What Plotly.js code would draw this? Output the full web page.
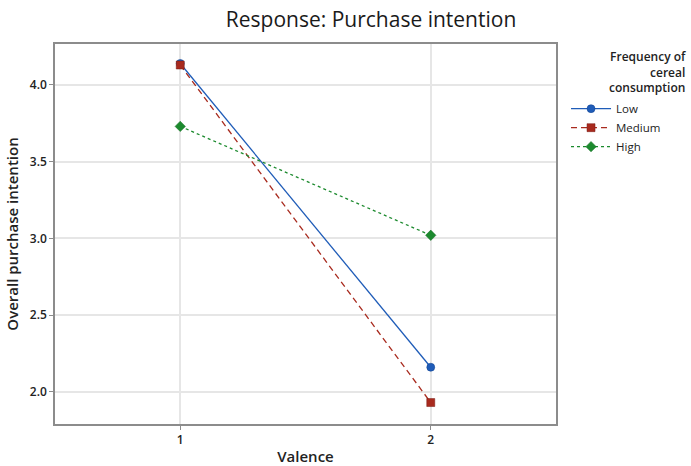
<!DOCTYPE html>
<html><head><meta charset="utf-8">
<script src="https://cdn.plot.ly/plotly-3.0.1.min.js"></script>
<style>html,body{margin:0;padding:0;background:#fff}</style>
</head><body>
<div id="chart" style="width:691px;height:466px"></div>
<script>
const valence = [1, 2];
const seriesNames = ["Low", "Medium", "High"];
const lowVals = [4.14, 2.16];
const mediumVals = [4.13, 1.93];
const highVals = [3.73, 3.02];
const yTicks = [2.0, 2.5, 3.0, 3.5, 4.0];
const xTicks = [1, 2];

const fontFam = "'Open Sans', 'Noto Sans', sans-serif";
const traces = [
  {x: valence, y: lowVals, name: seriesNames[0], mode: "lines+markers",
   line: {color: "#1f5cb8", width: 1.3, dash: "solid"},
   marker: {symbol: "circle", size: 8, color: "#1f5cb8", line: {color: "#0d3f8c", width: 0.5}}},
  {x: valence, y: mediumVals, name: seriesNames[1], mode: "lines+markers",
   line: {color: "#a82a1e", width: 1.3, dash: "6px,4px"},
   marker: {symbol: "square", size: 8, color: "#a82a1e", line: {color: "#7a1a12", width: 0.5}}},
  {x: valence, y: highVals, name: seriesNames[2], mode: "lines+markers",
   line: {color: "#1c8a2e", width: 1.3, dash: "3px,3px"},
   marker: {symbol: "diamond", size: 8, color: "#1c8a2e", line: {color: "#0f6a1e", width: 0.5}}}
];

const layout = {
  width: 691, height: 466,
  margin: {l: 55, r: 135, t: 44, b: 42},
  paper_bgcolor: "#fff", plot_bgcolor: "#fff",
  font: {family: fontFam, color: "#222", size: 12},
  title: {text: "Response: Purchase intention", x: 0.537, xanchor: "center", y: 0.957, yanchor: "middle",
          font: {size: 21, family: fontFam, color: "#1a1a1a", weight: 500}},
  xaxis: {range: [0.5, 2.5], tickvals: xTicks, ticktext: xTicks.map(String),
          showgrid: true, gridcolor: "#e6e6e6", gridwidth: 1.5, zeroline: false,
          showline: true, linecolor: "#8c8c8c", linewidth: 1.5, mirror: true,
          ticks: "outside", ticklen: 4, tickcolor: "#8c8c8c",
          tickfont: {size: 12, family: fontFam, weight: 600},
          title: {text: "Valence", font: {size: 15, family: fontFam, weight: 600}, standoff: 8}},
  yaxis: {range: [1.79, 4.267], tickvals: yTicks, ticktext: yTicks.map(v => v.toFixed(1)),
          showgrid: true, gridcolor: "#e6e6e6", gridwidth: 1.5, zeroline: false,
          showline: true, linecolor: "#8c8c8c", linewidth: 1.5, mirror: true,
          ticks: "outside", ticklen: 4, tickcolor: "#8c8c8c",
          tickfont: {size: 12, family: fontFam, weight: 600},
          title: {text: "Overall purchase intention", font: {size: 15, family: fontFam, weight: 600}, standoff: 8}},
  showlegend: true,
  legend: {x: 1.02, xanchor: "left", y: 0.868, yanchor: "top", bgcolor: "rgba(0,0,0,0)",
           font: {size: 11.5, family: fontFam}, itemwidth: 40, tracegroupgap: 0},
  annotations: [{xref: "paper", yref: "paper", x: 1.264, xanchor: "right", y: 0.995, yanchor: "top",
                 text: "Frequency of<br>cereal<br>consumption", showarrow: false, align: "right",
                 font: {size: 12, family: fontFam, weight: 600, color: "#222"}}]
};
Plotly.newPlot("chart", traces, layout, {displayModeBar: false});
</script>
</body></html>
